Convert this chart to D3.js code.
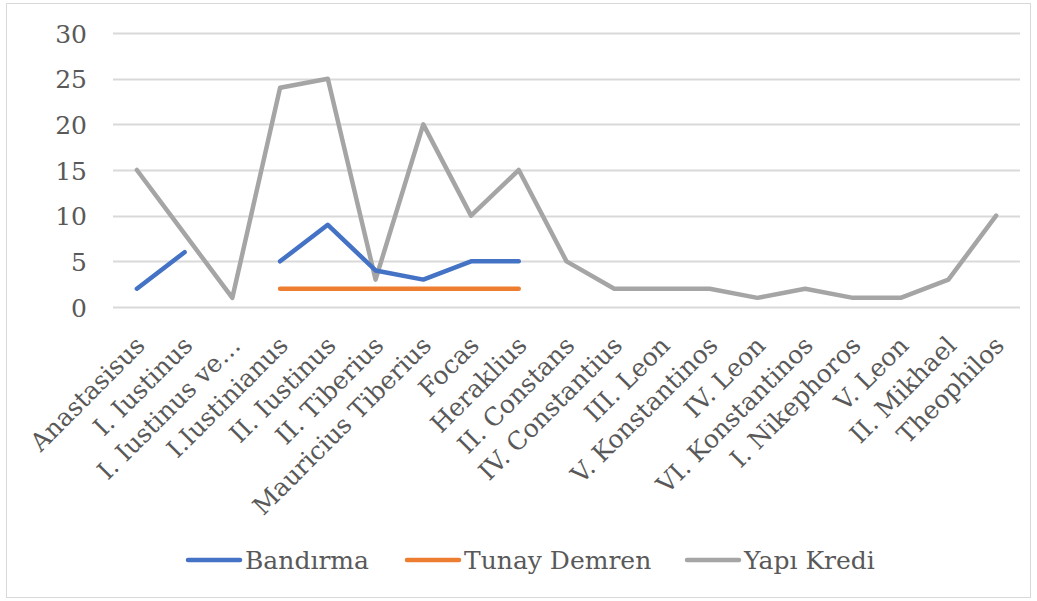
<!DOCTYPE html>
<html>
<head>
<meta charset="utf-8">
<script src="https://cdn.jsdelivr.net/npm/d3@7"></script>
<style>
  body { margin: 0; background: #fff; }
  text { font-family: "DejaVu Serif", serif; fill: #595959; }
</style>
</head>
<body>
<div id="my_dataviz"></div>
<script>
// categories and series
var categories = ["Anastasisus", "I. Iustinus", "I. Iustinus ve…", "I.Iustinianus", "II. Iustinus",
  "II. Tiberius", "Mauricius Tiberius", "Focas", "Heraklius", "II. Constans", "IV. Constantius",
  "III. Leon", "V. Konstantinos", "IV. Leon", "VI. Konstantinos", "I. Nikephoros", "V. Leon",
  "II. Mikhael", "Theophilos"];
var bandirma = [2, 6, null, 5, 9, 4, 3, 5, 5, null, null, null, null, null, null, null, null, null, null];
var tunayDemren = [null, null, null, 2, 2, 2, 2, 2, 2, null, null, null, null, null, null, null, null, null, null];
var yapiKredi = [15, 8, 1, 24, 25, 3, 20, 10, 15, 5, 2, 2, 2, 1, 2, 1, 1, 3, 10];
var yTicks = [0, 5, 10, 15, 20, 25, 30];

var series = [
  {name: "Bandırma", values: bandirma, color: "#4472C4"},
  {name: "Tunay Demren", values: tunayDemren, color: "#ED7D31"},
  {name: "Yapı Kredi", values: yapiKredi, color: "#A5A5A5"}
];

var W = 1037, H = 601;
var margin = {top: 33, right: 17, bottom: 294, left: 113},
    width = W - margin.left - margin.right,
    height = H - margin.top - margin.bottom;

var root = d3.select("#my_dataviz")
  .append("svg")
    .attr("width", W)
    .attr("height", H);

// outer chart border
root.append("rect")
  .attr("x", 6.5).attr("y", 3.5)
  .attr("width", 1024).attr("height", 594)
  .attr("fill", "none")
  .attr("stroke", "#d9d9d9")
  .attr("stroke-width", 1);

var svg = root.append("g")
  .attr("transform", "translate(" + margin.left + "," + margin.top + ")");

var x = d3.scalePoint()
  .domain(categories)
  .range([0, width])
  .padding(0.5);

var y = d3.scaleLinear()
  .domain([0, 30])
  .range([height, 0]);

// gridlines
svg.append("g")
  .selectAll("line")
  .data(yTicks)
  .enter().append("line")
    .attr("x1", 0)
    .attr("x2", width)
    .attr("y1", function(d) { return Math.round(y(d)) + 0.5; })
    .attr("y2", function(d) { return Math.round(y(d)) + 0.5; })
    .attr("stroke", "#d9d9d9")
    .attr("stroke-width", 2);

// Y axis
var yAxis = svg.append("g")
  .attr("transform", "translate(-26,0)")
  .call(d3.axisLeft(y).tickValues(yTicks).tickSize(0).tickPadding(0));
yAxis.select(".domain").remove();
yAxis.selectAll("text")
  .style("font-size", "25px")
  .style("font-family", "'DejaVu Serif', serif")
  .attr("fill", "#595959")
  .attr("dy", "0.36em");

// X axis labels, rotated
var xAxis = svg.append("g")
  .attr("transform", "translate(0," + height + ")")
  .call(d3.axisBottom(x).tickSize(0).tickPadding(0));
xAxis.select(".domain").remove();
xAxis.selectAll("text")
  .style("font-size", "25px")
  .style("font-family", "'DejaVu Serif', serif")
  .attr("fill", "#595959")
  .attr("text-anchor", "end")
  .attr("y", 0)
  .attr("dy", 0)
  .attr("transform", "translate(9,40) rotate(-45)");

// lines
var line = d3.line()
  .defined(function(d) { return d != null; })
  .x(function(d, i) { return x(categories[i]); })
  .y(function(d) { return y(d); });

svg.selectAll(".series")
  .data(series.slice().reverse())
  .enter().append("path")
    .attr("class", "series")
    .attr("d", function(d) { return line(d.values); })
    .attr("fill", "none")
    .attr("stroke", function(d) { return d.color; })
    .attr("stroke-width", 4.5)
    .attr("stroke-linecap", "round")
    .attr("stroke-linejoin", "round");

// legend
var legendX = [188, 407, 687];
var legend = root.selectAll(".legend")
  .data(series)
  .enter().append("g")
    .attr("class", "legend")
    .attr("transform", function(d, i) { return "translate(" + legendX[i] + ",560)"; });

legend.append("line")
  .attr("x1", 0).attr("x2", 52)
  .attr("y1", 0).attr("y2", 0)
  .attr("stroke", function(d) { return d.color; })
  .attr("stroke-width", 4.5)
  .attr("stroke-linecap", "round");

legend.append("text")
  .attr("x", 57)
  .attr("y", 0)
  .attr("dy", "0.36em")
  .style("font-size", "25px")
  .text(function(d) { return d.name; });
</script>
</body>
</html>
